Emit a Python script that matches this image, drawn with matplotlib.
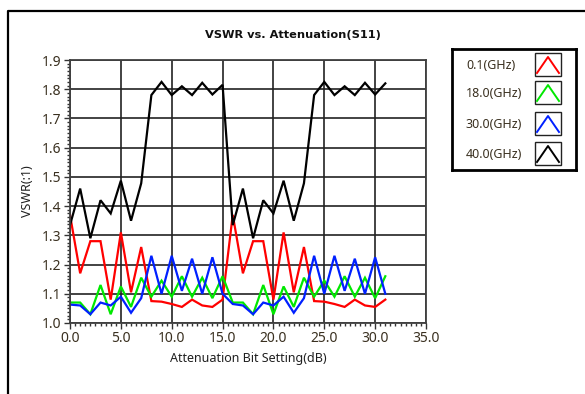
import matplotlib.pyplot as plt
import numpy as np
from matplotlib.lines import Line2D
from matplotlib.patches import Rectangle
from matplotlib.ticker import MultipleLocator, FormatStrFormatter

plt.rcParams['font.family'] = ['Noto Sans', 'DejaVu Sans']

# Attenuation steps (dB)
atten = np.arange(0, 32)

# VSWR per frequency
vswr_01 = [1.37, 1.17, 1.28, 1.28, 1.08, 1.31, 1.105, 1.26,
           1.075, 1.073, 1.065, 1.055, 1.08, 1.06, 1.055, 1.08,
           1.37, 1.17, 1.28, 1.28, 1.08, 1.31, 1.105, 1.26,
           1.075, 1.073, 1.065, 1.055, 1.08, 1.06, 1.055, 1.08]
vswr_18 = [1.07, 1.07, 1.03, 1.13, 1.03, 1.125, 1.055, 1.155,
           1.09, 1.145, 1.09, 1.16, 1.09, 1.155, 1.085, 1.16,
           1.07, 1.07, 1.03, 1.13, 1.03, 1.125, 1.055, 1.155,
           1.09, 1.145, 1.09, 1.16, 1.09, 1.155, 1.085, 1.16]
vswr_30 = [1.063, 1.06, 1.03, 1.07, 1.06, 1.09, 1.035, 1.085,
           1.23, 1.10, 1.23, 1.11, 1.22, 1.10, 1.225, 1.10,
           1.065, 1.06, 1.03, 1.07, 1.06, 1.09, 1.035, 1.085,
           1.23, 1.10, 1.23, 1.11, 1.22, 1.10, 1.225, 1.10]
vswr_40 = [1.335, 1.46, 1.29, 1.42, 1.375, 1.487, 1.35, 1.478,
           1.78, 1.825, 1.78, 1.81, 1.78, 1.822, 1.782, 1.815,
           1.335, 1.46, 1.29, 1.42, 1.375, 1.487, 1.35, 1.478,
           1.78, 1.825, 1.78, 1.81, 1.78, 1.822, 1.782, 1.82]

labels = ['0.1(GHz)', '18.0(GHz)', '30.0(GHz)', '40.0(GHz)']
colors = ['#ff0000', '#00e800', '#0020ff', '#000000']
series = [vswr_01, vswr_18, vswr_30, vswr_40]

fig = plt.figure(figsize=(5.85, 3.94), dpi=100)
ax = fig.add_axes([70 / 585, 1 - 323 / 394, 356 / 585, 263 / 394])

for y, c in zip(series, colors):
    ax.plot(atten, y, color=c, lw=1.6, solid_joinstyle='miter')

ax.set_xlim(0, 35)
ax.set_ylim(1.0, 1.9)
ax.xaxis.set_major_locator(MultipleLocator(5))
ax.xaxis.set_minor_locator(MultipleLocator(0.5))
ax.yaxis.set_major_locator(MultipleLocator(0.1))
ax.yaxis.set_minor_locator(MultipleLocator(0.0125))
ax.xaxis.set_major_formatter(FormatStrFormatter('%.1f'))
ax.yaxis.set_major_formatter(FormatStrFormatter('%.1f'))
ax.tick_params(which='major', length=4, width=1, color='#333333',
               labelsize=10, labelcolor='#3a3020', pad=2)
ax.tick_params(which='minor', length=2.5, width=1, color='#333333')
ax.grid(True, which='major', color='#222222', lw=1.2)
ax.set_axisbelow(True)
for s in ax.spines.values():
    s.set_color('#404040')
    s.set_linewidth(1.3)

ax.set_xlabel('Attenuation Bit Setting(dB)', fontsize=9, color='#202020', labelpad=4)
ax.set_ylabel('VSWR(:1)', fontsize=9, color='#202020', labelpad=6)

fig.text(0.5, 1 - 35 / 394, 'VSWR vs. Attenuation(S11)', ha='center', va='center',
         fontsize=8.2, fontweight='bold', family=['DejaVu Sans'], color='#111111')

# outer frame (left and top edges)
fig.add_artist(Line2D([7.5 / 585, 7.5 / 585, 1.0], [0.0, 1 - 11 / 394, 1 - 11 / 394],
                      transform=fig.transFigure, color='black', lw=1.6))

# legend panel
lax = fig.add_axes([452 / 585, 1 - 170 / 394, 124 / 585, 121 / 394])
lax.set_xlim(452, 576)
lax.set_ylim(170, 49)
lax.set_xticks([])
lax.set_yticks([])
for s in lax.spines.values():
    s.set_linewidth(2)
    s.set_color('black')
row_y = [65, 93, 124, 154]
for lab, c, yc in zip(labels, colors, row_y):
    lax.text(466, yc, lab, ha='left', va='center', fontsize=9, color='#3a3020')
    lax.add_patch(Rectangle((535, yc - 12), 26, 23, fill=False, ec='#222222', lw=1))
    lax.plot([537, 548, 559], [yc + 8, yc - 8, yc + 8], color=c, lw=1.4)

fig.savefig('out.png', dpi=100)
